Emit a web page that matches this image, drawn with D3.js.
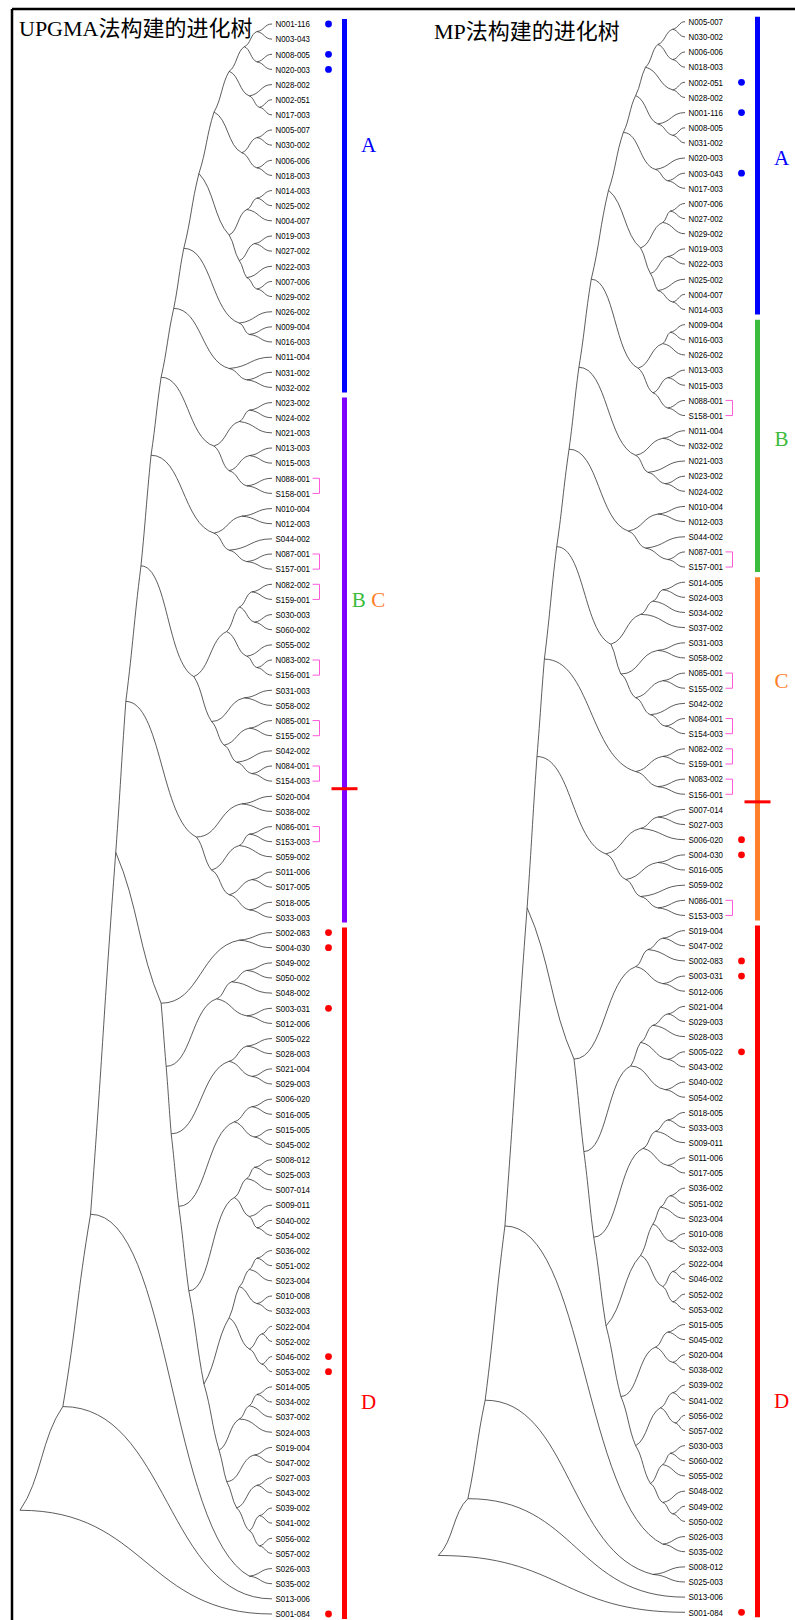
<!DOCTYPE html>
<html>
<head>
<meta charset="utf-8">
<script src="https://cdn.jsdelivr.net/npm/d3@7"></script>
<style>
  body { margin: 0; background: #fff; }
</style>
</head>
<body>
<script>
// Trees are written as Newick; the number after ")" is the node height
// (root = 1, tips = 0).

// ---- UPGMA tree pieces ----
const upgmaA = `(((((((N001-116,N003-043)0.06,(N008-005,N020-003)0.06)0.11,
  (N028-002,(N002-051,N017-003)0.05)0.09)0.17,
  ((N005-007,N030-002)0.06,(N006-006,N018-003)0.06)0.12)0.23,
  (((N014-003,N025-002)0.06,N004-007)0.10,
   ((N019-003,N027-002)0.07,(N022-003,(N007-006,N029-002)0.06)0.10)0.13)0.17)0.29,
  (N026-002,(N009-004,N016-003)0.09)0.13)0.35,
  (N011-004,(N031-002,N032-002)0.10)0.17)0.39`;

const upgmaBC = `((((${upgmaA},
  (((N023-002,N024-002)0.09,N021-003)0.13,((N013-003,N015-003)0.09,(N088-001,S158-001)0.10)0.17)0.23)0.44,
  ((N010-004,N012-003)0.12,(S044-002,(N087-001,S157-001)0.10)0.17)0.23)0.48,
  ((((N082-002,S159-001)0.08,(S030-003,S060-002)0.07)0.13,(S055-002,(N083-002,S156-001)0.06)0.10)0.18,
   ((S031-003,S058-002)0.11,((N085-001,S155-002)0.09,(S042-002,(N084-001,S154-003)0.08)0.14)0.19)0.24)0.31)0.52,
  ((S020-004,S038-002)0.12,(((N086-001,S153-003)0.09,S059-002)0.13,
   ((S011-006,S017-005)0.08,(S018-005,S033-003)0.09)0.17)0.24)0.30)0.58`;

const upgmaD = `((S002-083,S004-030)0.13,
 ((((S049-002,S050-002)0.10,S048-002)0.16,(S003-031,S012-006)0.10)0.22,
 (((S005-022,S028-003)0.10,(S021-004,S029-003)0.08)0.17,
 (((S006-020,S016-005)0.08,(S015-005,S045-002)0.07)0.15,
 ((((S008-012,S025-003)0.07,S007-014)0.10,(S009-011,(S040-002,S054-002)0.06)0.09)0.15,
 (((((S036-002,S051-002)0.06,S023-004)0.09,(S010-008,S032-003)0.06)0.13,
   ((S022-004,S052-002)0.04,(S046-002,S053-002)0.04)0.09)0.17,
 ((((S014-005,S034-002)0.06,S037-002)0.09,S024-003)0.13,
 ((S019-004,S047-002)0.07,
 ((S027-003,S043-002)0.06,
 ((S039-002,S041-002)0.05,(S056-002,S057-002)0.05)0.09)0.14)0.18)0.21)0.27)0.33)0.37)0.40)0.42)0.44`;

const upgmaTree = `((((${upgmaBC},${upgmaD})0.62,(S026-003,S035-002)0.09)0.72,S013-006)0.83,S001-084)1`;

// ---- MP tree pieces ----
const mpA = `(((((N005-007,N030-002)0.05,(N006-006,N018-003)0.05)0.11,(N002-051,N028-002)0.05)0.16,
  (N001-116,(N008-005,N031-002)0.05)0.11)0.20,
  (N020-003,(N003-043,N017-003)0.07)0.12)0.25,
  (((N007-006,N027-002)0.06,N029-002)0.09,
   ((N019-003,N022-003)0.07,(N025-002,(N004-007,N014-003)0.05)0.11)0.14)0.18`;

const mpB = `((((${mpA})0.31,
  (((N009-004,N016-003)0.06,N026-002)0.09,((N013-003,N015-003)0.07,(N088-001,S158-001)0.07)0.13)0.19)0.38,
  ((N011-004,N032-002)0.09,(N021-003,(N023-002,N024-002)0.08)0.15)0.20)0.43,
  ((N010-004,N012-003)0.11,(S044-002,(N087-001,S157-001)0.07)0.16)0.23)0.47`;

const mpC = `(((${mpB},
  ((((S014-005,S024-003)0.09,S034-002)0.13,S037-002)0.18,
   ((S031-003,S058-002)0.11,((N085-001,S155-002)0.09,(S042-002,(N084-001,S154-003)0.08)0.14)0.20)0.26)0.30)0.52,
  ((N082-002,S159-001)0.09,(N083-002,S156-001)0.11)0.20)0.57,
  (((S007-014,S027-003)0.11,S006-020)0.18,
   ((S004-030,S016-005)0.11,(S059-002,(N086-001,S153-003)0.11)0.18)0.24)0.32)0.60`;

const mpD = `((((S019-004,S047-002)0.09,S002-083)0.15,(S003-031,S012-006)0.09)0.20,
 (((((S021-004,S029-003)0.07,S028-003)0.13,(S005-022,S043-002)0.07)0.18,(S040-002,S054-002)0.08)0.22,
 ((((S018-005,S033-003)0.07,S009-011)0.12,(S011-006,S017-005)0.07)0.17,
 (((((S036-002,S051-002)0.06,S023-004)0.10,(S010-008,S032-003)0.06)0.13,
   ((S022-004,S046-002)0.05,(S052-002,S053-002)0.05)0.09)0.18,
 (((S015-005,S045-002)0.07,(S020-004,S038-002)0.05)0.12,
 (((S039-002,S041-002)0.05,(S056-002,S057-002)0.04)0.10,
 (((S030-003,S060-002)0.06,S055-002)0.09,(S048-002,(S049-002,S050-002)0.05)0.09)0.14)0.20)0.26)0.32)0.37)0.41)0.45`;

const mpTree = `(((((${mpC},${mpD})0.64,(S026-003,S035-002)0.09)0.73,(S008-012,S025-003)0.13)0.81,S013-006)0.88,S001-084)1`;

// ---- annotations ----
const upgmaGroups = [
  { key: "A", letters: ["A"], from: "N001-116", to: "N032-002", at: ["N030-002", "N030-002"] },
  { key: "BC", letters: ["B", "C"], from: "N023-002", to: "S033-003", at: ["S159-001", "S159-001"] },
  { key: "D", letters: ["D"], from: "S002-083", to: "S001-084", at: ["S034-002", "S034-002"] },
];
const mpGroups = [
  { key: "A", letters: ["A"], from: "N005-007", to: "N014-003", at: ["N020-003", "N020-003"] },
  { key: "B", letters: ["B"], from: "N009-004", to: "S157-001", at: ["N011-004", "N032-002"] },
  { key: "C", letters: ["C"], from: "S014-005", to: "S153-003", at: ["N085-001", "S155-002"] },
  { key: "D", letters: ["D"], from: "S019-004", to: "S001-084", at: ["S041-002", "S041-002"] },
];
const upgmaBlueDots = ["N001-116", "N008-005", "N020-003"];
const upgmaRedDots = ["S002-083", "S004-030", "S003-031", "S046-002", "S053-002", "S001-084"];
const mpBlueDots = ["N002-051", "N001-116", "N003-043"];
const mpRedDots = ["S006-020", "S004-030", "S002-083", "S003-031", "S005-022", "S001-084"];
const nsPairs = [
  ["N088-001", "S158-001"], ["N087-001", "S157-001"], ["N082-002", "S159-001"],
  ["N083-002", "S156-001"], ["N085-001", "S155-002"], ["N084-001", "S154-003"],
  ["N086-001", "S153-003"],
];
const upgmaSplit = ["S154-003", "S020-004"];
const mpSplit = ["S156-001", "S007-014"];

const groupColor = { A: "#0000ff", BC: "#8000ff", B: "#3cbc3c", C: "#ff7f2a", D: "#ff0000" };
const letterColor = { A: "#0000ff", B: "#3cbc3c", C: "#ff7f2a", D: "#ff0000" };

function parseNewick(text) {
  const s = text.replace(/\s+/g, "");
  let i = 0;
  function token() {
    const j = i;
    while (i < s.length && !",()".includes(s[i])) i++;
    return s.slice(j, i);
  }
  function node() {
    if (s[i] === "(") {
      i++;
      const children = [node()];
      while (s[i] === ",") { i++; children.push(node()); }
      i++; // closing paren
      return { children, h: +token() };
    }
    return { name: token(), h: 0 };
  }
  return node();
}

// Branch curve: a long, steep lineage runs on nearly straight, the smaller
// one leaves its parent flat; every branch ends flat at a tip.
function branchPath({ source: s, target: t }) {
  const sib = s.children.find((c) => c !== t);
  const major = !sib || t.value >= sib.value / 2;
  const dx = t.x - s.x, dy = t.y - s.y;
  const k = 0.5 * Math.max(0.3, 1 - dx / Math.max(1, Math.abs(dy)));
  const w0 = major ? k : 0;
  const w1 = t.children ? (major ? k : 0.12) : 0;
  return `M${s.x},${s.y}C${s.x + dx / 2},${s.y + dy * w0} ${t.x - dx / 2},${t.y - dy * w1} ${t.x},${t.y}`;
}

const width = 795, height = 1620;
const svg = d3.select("body").append("svg")
  .attr("width", width)
  .attr("height", height)
  .attr("viewBox", [0, 0, width, height]);

// frame: top and left edges only
svg.append("line").attr("x1", 12).attr("x2", width).attr("y1", 9).attr("y2", 9)
  .attr("stroke", "#000").attr("stroke-width", 2.5);
svg.append("line").attr("x1", 12).attr("x2", 12).attr("y1", 9).attr("y2", height)
  .attr("stroke", "#000").attr("stroke-width", 2.5);

function drawPanel(opt) {
  const g = svg.append("g");
  const root = d3.hierarchy(parseNewick(opt.newick)).count();
  const leaves = root.leaves();
  const y = d3.scaleLinear().domain([0, leaves.length - 1]).range([opt.top, opt.bottom]);
  const x = d3.scaleLinear().domain([1, 0]).range([opt.rootX, opt.tipX]);

  leaves.forEach((d, i) => { d.y = y(i); });
  root.eachAfter((d) => {
    if (d.children) d.y = (d.children[0].y + d.children[d.children.length - 1].y) / 2;
    d.x = x(d.data.h);
  });
  const leafY = new Map(leaves.map((d) => [d.data.name, d.y]));

  // branches
  g.append("g")
    .attr("fill", "none")
    .attr("stroke", "#333")
    .attr("stroke-width", 0.8)
    .selectAll("path")
    .data(root.links())
    .join("path")
    .attr("d", branchPath);

  // tip labels
  const lx = opt.tipX + 3.5;
  g.append("g")
    .attr("font-family", "'Liberation Sans', Arial, sans-serif")
    .attr("font-size", 9.5)
    .selectAll("text")
    .data(leaves)
    .join("text")
    .attr("x", lx)
    .attr("y", (d) => d.y)
    .attr("dy", "0.35em")
    .attr("textLength", 34.5)
    .attr("lengthAdjust", "spacingAndGlyphs")
    .text((d) => d.data.name);

  // N/S pair brackets
  g.append("g")
    .attr("fill", "none")
    .attr("stroke", "#ff5ad8")
    .attr("stroke-width", 1)
    .selectAll("path")
    .data(nsPairs)
    .join("path")
    .attr("d", ([a, b]) => {
      const y0 = leafY.get(a), y1 = leafY.get(b);
      return `M${lx + 37},${y0}H${lx + 44}V${y1}H${lx + 37}`;
    });

  // marker dots
  const dots = opt.blueDots.map((n) => [n, "#0000ff"]).concat(opt.redDots.map((n) => [n, "#ff0000"]));
  g.append("g")
    .selectAll("circle")
    .data(dots)
    .join("circle")
    .attr("cx", lx + 53)
    .attr("cy", ([n]) => leafY.get(n))
    .attr("r", 3.4)
    .attr("fill", ([, c]) => c);

  // group bars and letters
  const barX = lx + 69;
  g.append("g")
    .selectAll("line")
    .data(opt.groups)
    .join("line")
    .attr("x1", barX).attr("x2", barX)
    .attr("y1", (d) => leafY.get(d.from) - 5)
    .attr("y2", (d) => leafY.get(d.to) + 5)
    .attr("stroke", (d) => groupColor[d.key])
    .attr("stroke-width", 5);

  const letters = g.append("g")
    .attr("font-family", "'Liberation Serif', 'Times New Roman', serif")
    .attr("font-size", 21)
    .attr("text-anchor", "middle")
    .selectAll("text")
    .data(opt.groups)
    .join("text")
    .attr("x", lx + 93)
    .attr("y", (d) => (leafY.get(d.at[0]) + leafY.get(d.at[1])) / 2)
    .attr("dy", "0.35em");
  letters.selectAll("tspan")
    .data((d) => d.letters)
    .join("tspan")
    .attr("fill", (c) => letterColor[c])
    .text((c, i) => (i > 0 ? "\u00a0" : "") + c);

  // split tick between two groups
  const splitY = (leafY.get(opt.split[0]) + leafY.get(opt.split[1])) / 2;
  g.append("line")
    .attr("x1", lx + 56).attr("x2", lx + 82)
    .attr("y1", splitY).attr("y2", splitY)
    .attr("stroke", "#ff0000")
    .attr("stroke-width", 3);

  // title
  g.append("text")
    .attr("x", opt.titleX)
    .attr("y", opt.titleY)
    .attr("font-family", "'Liberation Serif', 'Noto Sans CJK SC', serif")
    .attr("font-size", 22)
    .attr("fill", "#000")
    .text(opt.title);
}

drawPanel({
  newick: upgmaTree, title: "UPGMA法构建的进化树", titleX: 19, titleY: 36,
  rootX: 20, tipX: 272, top: 24, bottom: 1614,
  groups: upgmaGroups, blueDots: upgmaBlueDots, redDots: upgmaRedDots, split: upgmaSplit,
});
drawPanel({
  newick: mpTree, title: "MP法构建的进化树", titleX: 434, titleY: 39,
  rootX: 438.3, tipX: 685, top: 21.7, bottom: 1612.3,
  groups: mpGroups, blueDots: mpBlueDots, redDots: mpRedDots, split: mpSplit,
});
</script>
</body>
</html>
